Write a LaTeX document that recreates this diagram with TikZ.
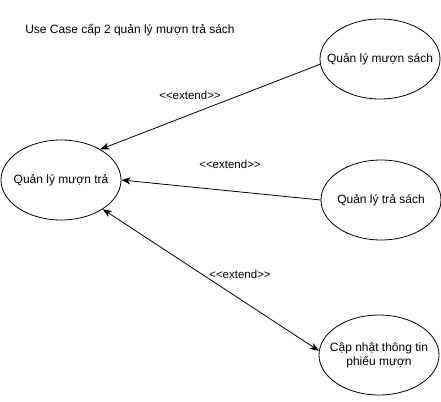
\documentclass[tikz,border=0pt]{standalone}
\usepackage{fontspec}
\setmainfont{Liberation Sans}
\usetikzlibrary{arrows.meta,shapes.geometric}
\begin{document}
\begin{tikzpicture}[x=1pt,y=-1pt,
  >={Stealth[length=9pt,width=7pt,inset=2.5pt]},
  txt/.style={font=\fontsize{12}{14}\selectfont,align=center},
  uc/.style={draw,ellipse,minimum width=120pt,minimum height=80pt,inner sep=0pt,line width=0.8pt},
  lbl/.style={font=\fontsize{11.5}{13}\selectfont},
  conn/.style={line width=0.8pt}]
\useasboundingbox (0,0) rectangle (441,401);
\node[txt] (title) at (130,30) {Use Case cấp 2 quản lý mượn trả sách};
\node[uc,label={[txt]center:Quản lý mượn trả}] (qmt) at (61,180) {};
\node[uc,label={[txt]center:Quản lý mượn sách}] (qms) at (380,59) {};
\node[uc,label={[txt]center:Quản lý trả sách}] (qts) at (381,200) {};
\node[uc,label={[txt]center:Cập nhật thông tin\\phiếu mượn}] (cn) at (379,355) {};
\draw[conn,->] (qms.185) -- (qmt.38);
\draw[conn,->] (qts.west) -- (qmt.east);
\draw[conn,<->] (qmt.-35) -- (cn.176);
\node[lbl] (l1) at (190,95) {<{}<extend>{}>};
\node[lbl] (l2) at (230,164) {<{}<extend>{}>};
\node[lbl] (l3) at (240,274) {<{}<extend>{}>};
\end{tikzpicture}
\end{document}
